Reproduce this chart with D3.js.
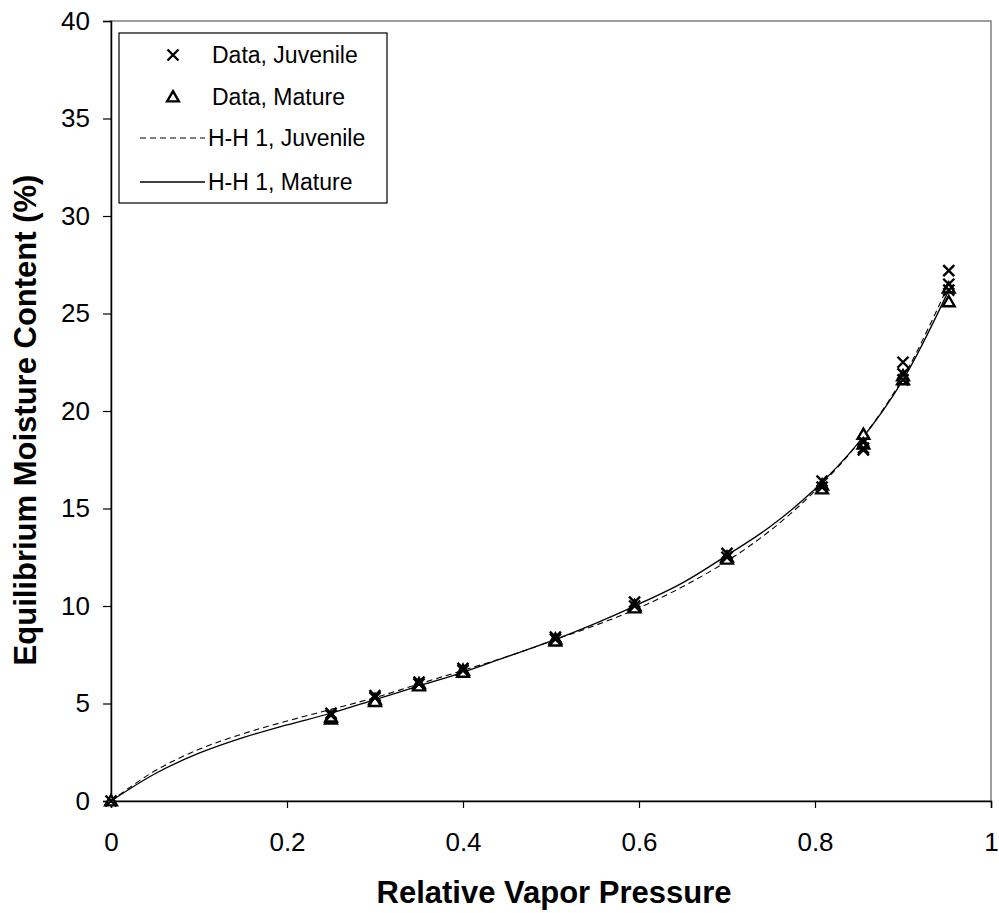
<!DOCTYPE html>
<html>
<head>
<meta charset="utf-8">
<script src="https://cdn.jsdelivr.net/npm/d3@7"></script>
<style>
body { margin: 0; background: #fff; }
text { font-family: "Liberation Sans", Arial, sans-serif; }
</style>
</head>
<body>
<div id="chart"></div>
<script>
// replicate measurements, [rvp, emc]
var juvenileData = [
  [0, 0],
  [0.25, 4.5], [0.25, 4.4],
  [0.3, 5.4], [0.3, 5.3],
  [0.35, 6.1], [0.35, 6.0],
  [0.4, 6.8], [0.4, 6.7],
  [0.505, 8.4], [0.505, 8.3],
  [0.595, 10.2], [0.595, 10.0],
  [0.7, 12.7], [0.7, 12.5],
  [0.808, 16.4], [0.808, 16.1],
  [0.855, 18.4], [0.855, 18.0], [0.855, 18.1],
  [0.9, 22.5], [0.9, 21.9], [0.9, 21.6],
  [0.952, 27.2], [0.952, 26.5], [0.952, 26.2]
]
var matureData = [
  [0, 0],
  [0.25, 4.2], [0.25, 4.3],
  [0.3, 5.2], [0.3, 5.1],
  [0.35, 6.0], [0.35, 5.9],
  [0.4, 6.7], [0.4, 6.6],
  [0.505, 8.3], [0.505, 8.2],
  [0.595, 10.0], [0.595, 9.9],
  [0.7, 12.5], [0.7, 12.4],
  [0.808, 16.2], [0.808, 16.0],
  [0.855, 18.8], [0.855, 18.3],
  [0.9, 21.8], [0.9, 21.6],
  [0.952, 25.6], [0.952, 26.3]
]
var hhJuvenile = [
  [0, 0], [0.05, 1.55], [0.1, 2.65], [0.15, 3.45], [0.2, 4.1], [0.25, 4.7],
  [0.3, 5.3], [0.35, 6.0], [0.4, 6.7], [0.45, 7.4], [0.5, 8.2], [0.55, 9.0],
  [0.6, 9.9], [0.65, 11.0], [0.7, 12.3], [0.75, 13.9], [0.8, 15.9],
  [0.85, 18.4], [0.9, 21.7], [0.952, 26.5]
]
var hhMature = [
  [0, 0], [0.05, 1.4], [0.1, 2.45], [0.15, 3.25], [0.2, 3.9], [0.25, 4.5],
  [0.3, 5.2], [0.35, 5.9], [0.4, 6.6], [0.45, 7.4], [0.5, 8.2], [0.55, 9.1],
  [0.6, 10.1], [0.65, 11.2], [0.7, 12.6], [0.75, 14.1], [0.8, 16.0],
  [0.85, 18.4], [0.9, 21.6], [0.952, 26.2]
]
var xTicks = [0, 0.2, 0.4, 0.6, 0.8, 1]
var yTicks = [0, 5, 10, 15, 20, 25, 30, 35, 40]
var legendLabels = ["Data, Juvenile", "Data, Mature", "H-H 1, Juvenile", "H-H 1, Mature"]

var margin = {top: 21, right: 7, bottom: 112, left: 111},
width = 999 - margin.left - margin.right,
height = 913 - margin.top - margin.bottom;

var svg = d3.select("#chart")
.append("svg")
.attr("width", 999)
.attr("height", 913)
.append("g")
.attr("transform", "translate(" + margin.left + "," + margin.top + ")")

var x = d3.scaleLinear().domain([0, 1]).range([0, 880])
var y = d3.scaleLinear().domain([0, 40]).range([height, 0])

// frame
svg.append("rect")
.attr("x", 0).attr("y", 0)
.attr("width", x(1)).attr("height", height)
.style("fill", "none").style("stroke", "#808080").style("stroke-width", 1.5)

var xAxis = svg.append("g")
.attr("transform", "translate(0," + height + ")")
.call(d3.axisBottom(x).tickValues(xTicks).tickFormat(d3.format("")).tickSizeOuter(0).tickSize(7).tickPadding(25))
var yAxis = svg.append("g")
.call(d3.axisLeft(y).tickValues(yTicks).tickSizeOuter(0).tickSize(8).tickPadding(13))
svg.selectAll(".domain").style("stroke", "#000").style("stroke-width", 1.5)
svg.selectAll(".tick line").style("stroke", "#000").style("stroke-width", 1.2)
svg.selectAll(".tick text").style("font-size", "26px").style("fill", "#000")
.style("font-family", "'Liberation Sans', Arial, sans-serif")

var line = d3.line()
.x(function(d) { return x(d[0]) })
.y(function(d) { return y(d[1]) })
.curve(d3.curveCatmullRom.alpha(0.5))

svg.append("path").datum(hhJuvenile)
.attr("d", line)
.style("fill", "none").style("stroke", "#000").style("stroke-width", 1.1)
.style("stroke-dasharray", "6,4")
svg.append("path").datum(hhMature)
.attr("d", line)
.style("fill", "none").style("stroke", "#000").style("stroke-width", 1.3)

var tri = d3.symbol().type(d3.symbolTriangle).size(60)
function cross(g, cx, cy) {
    g.append("path")
    .attr("d", "M" + (cx - 5.5) + "," + (cy - 5.5) + "L" + (cx + 5.5) + "," + (cy + 5.5) + "M" + (cx - 5.5) + "," + (cy + 5.5) + "L" + (cx + 5.5) + "," + (cy - 5.5))
    .style("stroke", "#000").style("stroke-width", 2.4).style("fill", "none")
}
function triangle(g, cx, cy) {
    g.append("path")
    .attr("d", tri())
    .attr("transform", "translate(" + cx + "," + (cy + 1) + ")")
    .style("stroke", "#000").style("stroke-width", 2.4).style("fill", "#fff")
}

var marks = svg.append("g")
matureData.forEach(function(d) { triangle(marks, x(d[0]), y(d[1])) })
juvenileData.forEach(function(d) { cross(marks, x(d[0]), y(d[1])) })

// legend
var lg = svg.append("g").attr("transform", "translate(" + (119 - margin.left) + "," + (33 - margin.top) + ")")
lg.append("rect").attr("width", 268).attr("height", 170)
.style("fill", "#fff").style("stroke", "#000").style("stroke-width", 1.2)
var rowsY = [22, 64, 105, 149]
cross(lg, 54, rowsY[0])
triangle(lg, 54, rowsY[1])
lg.append("line").attr("x1", 21).attr("x2", 86).attr("y1", rowsY[2]).attr("y2", rowsY[2])
.style("stroke", "#000").style("stroke-width", 1.1).style("stroke-dasharray", "6,4")
lg.append("line").attr("x1", 21).attr("x2", 86).attr("y1", rowsY[3]).attr("y2", rowsY[3])
.style("stroke", "#000").style("stroke-width", 1.3)
lg.selectAll(".lbl").data(legendLabels).enter()
.append("text")
.attr("x", function(d, i) { return i < 2 ? 93 : 89 })
.attr("y", function(d, i) { return rowsY[i] + 8 })
.style("font-size", "23px")
.text(function(d) { return d })

svg.append("text")
.attr("x", x(0.5) + 3)
.attr("y", 903 - margin.top)
.attr("text-anchor", "middle")
.style("font-size", "31px").style("font-weight", "bold")
.text("Relative Vapor Pressure")
svg.append("text")
.attr("transform", "translate(" + (36 - margin.left) + "," + (420 - margin.top) + ") rotate(-90)")
.attr("text-anchor", "middle")
.style("font-size", "31px").style("font-weight", "bold")
.text("Equilibrium Moisture Content (%)")
</script>
</body>
</html>
